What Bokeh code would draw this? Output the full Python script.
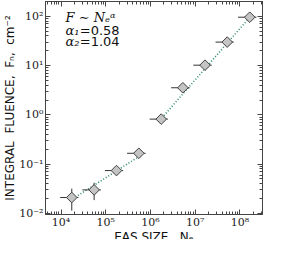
import numpy as np
from bokeh.plotting import figure
from bokeh.models import (LogAxis, LogTicker, CustomJSTickFormatter, Label,
                          ColumnDataSource, Title)
from bokeh.embed import file_html
from bokeh.resources import INLINE

# ---- data ----
eas_size = [1.74e4, 5.5e4, 1.74e5, 5.5e5, 1.74e6, 5.3e6, 1.66e7, 5.2e7, 1.66e8]
fluence = [0.021, 0.030, 0.074, 0.166, 0.82, 3.55, 10.2, 30.0, 96.0]
size_lo = [9.6e3, 3.0e4, 9.6e4, 3.0e5, 9.6e5, 2.9e6, 9.1e6, 2.85e7, 9.1e7]
size_hi = [2.45e4, 7.8e4, 2.45e5, 7.8e5, 2.45e6, 7.5e6, 2.34e7, 7.3e7, 2.34e8]
flu_lo = [0.0114, 0.0186, 0.066, 0.150, 0.74, 3.2, 9.3, 27.0, 87.0]
flu_hi = [0.0318, 0.042, 0.083, 0.183, 0.90, 3.9, 11.2, 33.0, 105.0]

alphas = [0.58, 1.04]
fit_x_start = [2.1e4, 2.0e6]
fit_x_end = [5.5e5, 1.66e8]
fit_anchor_x = [2.1e4, 1.66e8]
fit_anchor_y = [0.0214, 95.5]

x_range = (4.5e3, 3.2e8)
y_range = (0.0095, 200)
x_title = "EAS SIZE,\u00a0\u00a0Nₑ"
y_title = "INTEGRAL\u00a0\u00a0FLUENCE,\u00a0\u00a0Fₙ,\u00a0\u00a0cm⁻²"

# ---- figure ----
p = figure(width=277, height=239, x_axis_type="log", y_axis_type="log",
           x_range=x_range, y_range=y_range, output_backend="svg",
           toolbar_location=None, min_border_left=0, min_border_right=15,
           min_border_top=1, min_border_bottom=0)
p.background_fill_color = "white"
p.border_fill_color = "white"
p.outline_line_color = "#444444"
p.grid.visible = False

sup = {'-': '⁻', '0': '⁰', '1': '¹', '2': '²', '3': '³', '4': '⁴',
       '5': '⁵', '6': '⁶', '7': '⁷', '8': '⁸', '9': '⁹'}
js_map = "{" + ",".join("'%s':'%s'" % (k, v) for k, v in sup.items()) + "}"
fmt_code = """
const e = Math.round(Math.log10(tick));
const m = %s;
return '10' + String(e).split('').map(c => m[c]).join('');
""" % js_map


def style_axis(ax, labels=True):
    ax.ticker = LogTicker(desired_num_ticks=6, num_minor_ticks=10)
    ax.major_tick_in = 5
    ax.major_tick_out = 0
    ax.minor_tick_in = 3
    ax.minor_tick_out = 0
    ax.axis_line_color = "#444444"
    ax.major_tick_line_color = "#444444"
    ax.minor_tick_line_color = "#444444"
    if labels:
        ax.formatter = CustomJSTickFormatter(code=fmt_code)
        ax.major_label_text_font = "DejaVu Serif"
        ax.major_label_text_font_size = "11px"
        ax.major_label_text_color = "#222222"
        ax.major_label_standoff = 2
    else:
        ax.major_label_text_font_size = "1px"
        ax.major_label_text_alpha = 0
        ax.major_label_standoff = 0


style_axis(p.xaxis[0])
style_axis(p.yaxis[0])
p.xaxis[0].major_label_standoff = 1

top_ax = LogAxis()
right_ax = LogAxis()
style_axis(top_ax, labels=False)
style_axis(right_ax, labels=False)
p.add_layout(top_ax, "above")
p.add_layout(right_ax, "right")

# axis titles as side panels
p.add_layout(Title(text=x_title, align="center", text_font="DejaVu Sans",
                   text_font_size="12px", text_font_style="normal",
                   text_color="#111111", standoff=-8, offset=0,
                   text_line_height=0.8), "below")
p.add_layout(Title(text=y_title, align="center", text_font="DejaVu Sans",
                   text_font_size="12px", text_font_style="normal",
                   text_color="#111111", standoff=0, offset=0), "left")

# ---- fit lines ----
for a, xs, xe, ax0, ay0 in zip(alphas, fit_x_start, fit_x_end, fit_anchor_x, fit_anchor_y):
    fx = np.array([xs, xe])
    fy = ay0 * (fx / ax0) ** a
    p.line(fx, fy, line_color="#2e8b6a", line_width=1.6, line_dash="1 2")

src = ColumnDataSource(dict(x=eas_size, y=fluence, xl=size_lo, xh=size_hi,
                            yl=flu_lo, yh=flu_hi))
p.segment(x0="xl", x1="xh", y0="y", y1="y", source=src,
          line_color="#333333", line_width=1)
p.segment(x0="x", x1="x", y0="yl", y1="yh", source=src,
          line_color="#333333", line_width=1)
p.scatter(x="x", y="y", source=src, marker="square", angle=np.pi / 4,
          size=7.5, fill_color="#c4c4c4", line_color="#404040", line_width=1)

# ---- annotations ----
row_y = [10 ** 1.98, 10 ** 1.72, 10 ** 1.49]
txt_x = 10 ** 4.1
p.add_layout(Label(x=txt_x, y=row_y[0], text="F ∼ Nₑᵅ", text_font="DejaVu Serif",
                   text_font_style="italic", text_font_size="13px",
                   text_baseline="middle", text_color="#111111"))
for i, a in enumerate(alphas):
    p.add_layout(Label(x=txt_x, y=row_y[i + 1], text="α" + ["₁", "₂"][i],
                       text_font="DejaVu Serif", text_font_style="italic",
                       text_font_size="13px", text_baseline="middle",
                       text_color="#111111"))
    p.add_layout(Label(x=10 ** 4.42, y=row_y[i + 1], text="=%.2f" % a,
                       text_font="DejaVu Sans", text_font_size="13px",
                       text_baseline="middle", text_color="#111111"))

open("out.html", "w").write(file_html(p, INLINE))
